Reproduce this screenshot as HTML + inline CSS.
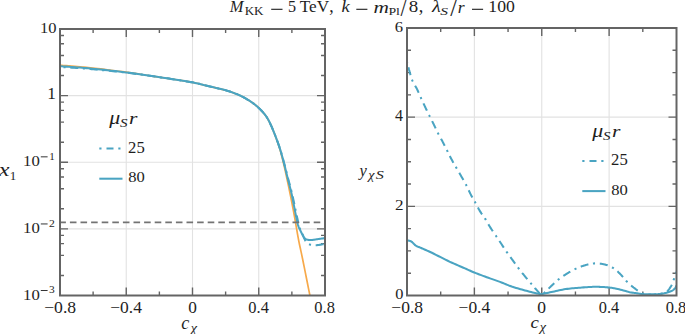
<!DOCTYPE html>
<html><head><meta charset="utf-8"><style>html,body{margin:0;padding:0;background:#fff;}svg{display:block;}</style></head>
<body><svg width="685" height="334" viewBox="0 0 685 334" font-family="'Liberation Serif', serif">
<rect width="685" height="334" fill="#fff"/>
<line x1="126.25" y1="29" x2="126.25" y2="295.5" stroke="#e2e2e2" stroke-width="1.1"/>
<line x1="474.38" y1="28" x2="474.38" y2="295.5" stroke="#e2e2e2" stroke-width="1.1"/>
<line x1="192.50" y1="29" x2="192.50" y2="295.5" stroke="#e2e2e2" stroke-width="1.1"/>
<line x1="541.75" y1="28" x2="541.75" y2="295.5" stroke="#e2e2e2" stroke-width="1.1"/>
<line x1="258.75" y1="29" x2="258.75" y2="295.5" stroke="#e2e2e2" stroke-width="1.1"/>
<line x1="609.12" y1="28" x2="609.12" y2="295.5" stroke="#e2e2e2" stroke-width="1.1"/>
<line x1="60" y1="228.88" x2="325" y2="228.88" stroke="#e2e2e2" stroke-width="1.1"/>
<line x1="60" y1="162.25" x2="325" y2="162.25" stroke="#e2e2e2" stroke-width="1.1"/>
<line x1="60" y1="95.62" x2="325" y2="95.62" stroke="#e2e2e2" stroke-width="1.1"/>
<line x1="407" y1="206.33" x2="676.5" y2="206.33" stroke="#e2e2e2" stroke-width="1.1"/>
<line x1="407" y1="117.17" x2="676.5" y2="117.17" stroke="#e2e2e2" stroke-width="1.1"/>
<path d="M126.25 295.50v-8M126.25 29.00v8M192.50 295.50v-8M192.50 29.00v8M258.75 295.50v-8M258.75 29.00v8M93.12 295.50v-4M93.12 29.00v4M159.38 295.50v-4M159.38 29.00v4M225.62 295.50v-4M225.62 29.00v4M291.88 295.50v-4M291.88 29.00v4M60.00 228.88h8M325.00 228.88h-8M60.00 162.25h8M325.00 162.25h-8M60.00 95.62h8M325.00 95.62h-8M60.00 275.44h4M325.00 275.44h-4M60.00 255.39h4M325.00 255.39h-4M60.00 243.66h4M325.00 243.66h-4M60.00 235.33h4M325.00 235.33h-4M60.00 208.82h4M325.00 208.82h-4M60.00 188.76h4M325.00 188.76h-4M60.00 177.03h4M325.00 177.03h-4M60.00 168.71h4M325.00 168.71h-4M60.00 142.19h4M325.00 142.19h-4M60.00 122.14h4M325.00 122.14h-4M60.00 110.41h4M325.00 110.41h-4M60.00 102.08h4M325.00 102.08h-4M60.00 75.57h4M325.00 75.57h-4M60.00 55.51h4M325.00 55.51h-4M60.00 43.78h4M325.00 43.78h-4M60.00 35.46h4M325.00 35.46h-4M474.38 295.50v-8M474.38 28.00v8M541.75 295.50v-8M541.75 28.00v8M609.12 295.50v-8M609.12 28.00v8M440.69 295.50v-4M440.69 28.00v4M508.06 295.50v-4M508.06 28.00v4M575.44 295.50v-4M575.44 28.00v4M642.81 295.50v-4M642.81 28.00v4M407.00 206.33h8M676.50 206.33h-8M407.00 117.17h8M676.50 117.17h-8M407.00 273.21h4M676.50 273.21h-4M407.00 250.92h4M676.50 250.92h-4M407.00 228.62h4M676.50 228.62h-4M407.00 184.04h4M676.50 184.04h-4M407.00 161.75h4M676.50 161.75h-4M407.00 139.46h4M676.50 139.46h-4M407.00 94.88h4M676.50 94.88h-4M407.00 72.58h4M676.50 72.58h-4M407.00 50.29h4M676.50 50.29h-4" stroke="#646464" stroke-width="1.4" fill="none"/>
<defs><clipPath id="cl"><rect x="60" y="29" width="265" height="266.5"/></clipPath><clipPath id="cr"><rect x="407" y="28" width="269.5" height="267.5"/></clipPath></defs>
<g clip-path="url(#cl)" fill="none" stroke-linejoin="round">
<path d="M60.00 65.20 61.56 65.32 63.65 65.48 66.14 65.67 68.89 65.89 71.79 66.12 74.69 66.35 77.47 66.58 80.00 66.80 82.25 67.00 84.34 67.19 86.34 67.38 88.33 67.57 90.39 67.78 92.58 68.02 95.00 68.29 97.70 68.60 100.74 68.96 104.05 69.36 107.58 69.80 111.24 70.26 114.99 70.73 118.74 71.22 122.43 71.71 126.00 72.20 129.46 72.69 132.87 73.18 136.26 73.69 139.64 74.20 143.03 74.72 146.44 75.24 149.90 75.77 153.40 76.30 157.08 76.85 160.97 77.43 164.96 78.02 168.94 78.62 172.80 79.20 176.44 79.75 179.74 80.25 182.60 80.70 184.96 81.08 186.89 81.39 188.50 81.66 189.88 81.89 191.12 82.12 192.33 82.35 193.59 82.61 195.00 82.90 196.47 83.22 197.87 83.54 199.23 83.87 200.60 84.22 202.01 84.58 203.51 84.96 205.12 85.37 206.90 85.80 208.92 86.28 211.18 86.81 213.60 87.37 216.08 87.95 218.54 88.53 220.89 89.09 223.04 89.62 224.90 90.10 226.46 90.52 227.79 90.90 228.94 91.25 229.97 91.57 230.93 91.90 231.87 92.24 232.84 92.60 233.90 93.00 235.02 93.43 236.13 93.87 237.24 94.32 238.35 94.79 239.46 95.28 240.57 95.80 241.68 96.33 242.80 96.90 243.94 97.50 245.10 98.14 246.27 98.82 247.44 99.51 248.59 100.21 249.71 100.91 250.78 101.61 251.80 102.30 252.75 102.97 253.66 103.63 254.52 104.29 255.34 104.94 256.15 105.61 256.94 106.29 257.72 106.98 258.50 107.70 259.29 108.45 260.08 109.22 260.85 110.01 261.62 110.81 262.36 111.62 263.08 112.43 263.76 113.22 264.40 114.00 264.99 114.74 265.52 115.43 266.01 116.10 266.48 116.77 266.94 117.47 267.40 118.23 267.88 119.06 268.40 120.00 268.94 121.01 269.47 122.07 270.02 123.18 270.57 124.35 271.15 125.61 271.74 126.96 272.35 128.42 273.00 130.00 273.70 131.75 274.44 133.67 275.23 135.72 276.02 137.85 276.82 140.03 277.59 142.21 278.33 144.34 279.00 146.40 279.62 148.39 280.19 150.36 280.74 152.31 281.26 154.26 281.76 156.19 282.24 158.13 282.72 160.06 283.20 162.00 283.67 163.93 284.12 165.85 284.56 167.76 284.99 169.68 285.42 171.60 285.84 173.54 286.27 175.50 286.70 177.50 287.13 179.51 287.56 181.52 287.99 183.53 288.42 185.57 288.85 187.66 289.29 189.80 289.74 192.00 290.20 194.30 290.67 196.67 291.16 199.10 291.65 201.59 292.14 204.14 292.65 206.75 293.16 209.43 293.68 212.18 294.20 215.00 294.73 217.96 295.28 221.09 295.84 224.32 296.40 227.61 296.96 230.88 297.52 234.07 298.07 237.13 298.60 240.00 299.10 242.54 299.55 244.76 299.98 246.80 300.42 248.78 300.88 250.86 301.38 253.16 301.94 255.83 302.60 259.00 303.40 262.96 304.35 267.69 305.39 272.90 306.46 278.28 307.51 283.53 308.47 288.36 309.29 292.44 309.90 295.50 310.30 297.46 310.54 298.57 310.64 299.04 310.66 299.03 310.61 298.74 310.55 298.35 310.50 298.04 310.50 298.00" stroke="#f7a94a" stroke-width="1.7"/>
<path d="M63.53 67.12 63.65 67.13 64.85 67.20 65.63 67.25M70.29 67.54 70.33 67.55 71.79 67.64 73.25 67.74 74.69 67.83 76.11 67.93 77.47 68.02 78.23 68.07M82.89 68.42 83.31 68.45 84.34 68.53 84.98 68.58M89.64 68.96 90.39 69.03 91.46 69.12 92.58 69.22 93.76 69.33 95.00 69.44 96.31 69.57 97.56 69.69M102.21 70.13 102.36 70.15 104.05 70.31 104.30 70.33M108.96 70.79 109.40 70.83 111.24 71.01 113.11 71.20 114.99 71.39 116.87 71.59 116.87 71.59M121.51 72.09 122.43 72.19 123.60 72.32M128.24 72.87 129.46 73.02 131.17 73.23 132.87 73.45 134.57 73.67 136.13 73.88M140.76 74.51 141.34 74.59 142.84 74.80M147.47 75.45 148.16 75.55 149.90 75.80 151.64 76.05 153.40 76.30 155.21 76.56 155.34 76.58M159.97 77.26 160.97 77.40 162.04 77.56M166.67 78.25 166.95 78.29 168.94 78.59 170.89 78.89 172.80 79.18 174.53 79.44M179.15 80.16 179.74 80.25 181.22 80.48M185.84 81.22 185.97 81.24 186.89 81.39 187.73 81.53 188.50 81.66 189.21 81.78 189.88 81.89 190.51 82.01 191.12 82.12 191.73 82.23 192.33 82.35 192.95 82.48 193.59 82.61 193.67 82.62M198.23 83.63 198.55 83.71 199.23 83.87 199.91 84.04 200.27 84.13M204.80 85.28 205.12 85.37 205.99 85.58 206.90 85.80 207.87 86.03 208.92 86.28 210.03 86.54 211.18 86.81 212.38 87.09 212.54 87.12M217.09 88.19 217.32 88.24 218.54 88.53 219.13 88.67M223.67 89.78 224.01 89.87 224.90 90.10 225.71 90.32 226.46 90.52 227.15 90.72 227.79 90.90 228.38 91.08 228.94 91.25 229.47 91.41 229.97 91.57 230.45 91.74 230.93 91.90 231.29 92.03M235.66 93.68 236.13 93.87 236.69 94.09 237.24 94.32 237.61 94.48M241.86 96.42 242.24 96.61 242.80 96.90 243.36 97.20 243.94 97.50 244.51 97.82 245.10 98.14 245.68 98.48 246.27 98.82 246.85 99.16 247.44 99.51 248.02 99.86 248.59 100.21 248.78 100.33M252.68 102.91 252.75 102.97 253.21 103.30 253.66 103.63 254.09 103.96 254.36 104.17M257.93 107.18 258.11 107.34 258.50 107.70 258.89 108.07 259.29 108.45 259.68 108.83 260.08 109.22 260.47 109.61 260.85 110.01 261.24 110.41 261.62 110.81 261.99 111.22 262.36 111.62 262.72 112.02 263.08 112.43 263.42 112.82 263.47 112.88M266.34 116.56 266.48 116.77 266.71 117.11 266.94 117.47 267.17 117.84 267.40 118.23 267.47 118.34M269.66 122.46 269.74 122.61 270.01 123.18 270.28 123.75 270.56 124.35 270.84 124.97 271.13 125.61 271.42 126.27 271.72 126.96 272.03 127.67 272.34 128.42 272.67 129.19 272.89 129.73M274.63 134.06 274.87 134.68 275.28 135.72 275.40 136.02M277.06 140.39 277.33 141.12 277.73 142.21 278.11 143.28 278.49 144.34 278.85 145.39 279.20 146.40 279.53 147.40 279.69 147.89M281.08 152.35 281.36 153.29 281.64 154.26 281.67 154.37M282.94 158.87 283.00 159.09 283.26 160.06 283.53 161.03 283.80 162.00 284.07 162.97 284.33 163.93 284.58 164.89 284.83 165.85 285.01 166.55M286.17 171.07 286.30 171.60 286.54 172.56 286.68 173.11M287.84 177.64 288.06 178.51 288.33 179.51 288.60 180.51 288.87 181.52 289.15 182.52 289.42 183.53 289.70 184.55 289.91 185.32M291.10 189.84 291.37 190.89 291.61 191.87M292.68 196.42 292.76 196.76 293.04 198.06 293.33 199.39 293.62 200.76 293.91 202.14 294.20 203.53 294.34 204.20M295.28 208.78 295.33 209.01 295.60 210.31 295.71 210.83M296.69 215.40 296.83 216.02 297.04 216.99 297.25 217.93 297.45 218.83 297.64 219.70 297.83 220.53 298.01 221.33 298.19 222.11 298.36 222.85 298.44 223.16M299.66 227.67 299.79 228.09 299.98 228.65 300.17 229.17 300.36 229.65M302.32 233.89 302.43 234.11 302.60 234.50 302.77 234.89 302.93 235.28 303.10 235.67 303.26 236.05 303.41 236.43 303.57 236.80 303.72 237.17 303.88 237.53 304.02 237.88 304.17 238.22 304.31 238.55 304.46 238.86 304.60 239.17 304.73 239.46 304.87 239.74 305.00 240.00 305.13 240.24 305.24 240.47 305.35 240.68 305.46 240.87 305.56 241.05 305.61 241.13M309.01 244.24 309.19 244.32 309.44 244.42 309.71 244.51 310.00 244.60 310.31 244.68 310.63 244.75 310.97 244.82 311.02 244.83M315.67 245.21 315.87 245.21 316.30 245.20 316.75 245.18 317.22 245.14 317.71 245.09 318.21 245.03 318.73 244.95 319.26 244.88 319.78 244.79 320.31 244.71 320.82 244.62 321.32 244.53 321.81 244.44 322.27 244.36 322.70 244.28 323.11 244.21 323.47 244.15 323.55 244.14" stroke="#4aa4c2" stroke-width="2.05"/>
<path d="M60.00 66.20 61.56 66.31 63.65 66.45 66.14 66.61 68.89 66.80 71.79 67.00 74.69 67.20 77.47 67.41 80.00 67.60 82.25 67.78 84.34 67.95 86.34 68.12 88.33 68.29 90.39 68.47 92.58 68.68 95.00 68.92 97.70 69.20 100.74 69.52 104.05 69.87 107.58 70.25 111.24 70.66 114.99 71.08 118.74 71.51 122.43 71.96 126.00 72.40 129.46 72.85 132.87 73.31 136.26 73.79 139.64 74.28 143.03 74.77 146.44 75.27 149.90 75.78 153.40 76.30 157.08 76.84 160.97 77.42 164.96 78.01 168.94 78.61 172.80 79.19 176.44 79.74 179.74 80.25 182.60 80.70 184.96 81.08 186.89 81.39 188.50 81.66 189.88 81.89 191.12 82.12 192.33 82.35 193.59 82.61 195.00 82.90 196.47 83.22 197.87 83.54 199.23 83.87 200.60 84.22 202.01 84.58 203.51 84.96 205.12 85.37 206.90 85.80 208.92 86.28 211.18 86.81 213.60 87.37 216.08 87.95 218.54 88.53 220.89 89.09 223.04 89.62 224.90 90.10 226.46 90.52 227.79 90.90 228.94 91.25 229.97 91.57 230.93 91.90 231.87 92.24 232.84 92.60 233.90 93.00 235.02 93.43 236.13 93.87 237.24 94.32 238.35 94.79 239.46 95.28 240.57 95.80 241.68 96.33 242.80 96.90 243.94 97.50 245.10 98.14 246.27 98.82 247.44 99.51 248.59 100.21 249.71 100.91 250.78 101.61 251.80 102.30 252.75 102.97 253.66 103.63 254.52 104.29 255.34 104.94 256.15 105.61 256.94 106.29 257.72 106.98 258.50 107.70 259.29 108.45 260.08 109.22 260.85 110.01 261.62 110.81 262.36 111.62 263.08 112.43 263.76 113.22 264.40 114.00 264.99 114.74 265.52 115.43 266.01 116.10 266.48 116.77 266.94 117.47 267.40 118.23 267.88 119.06 268.40 120.00 268.94 121.01 269.47 122.07 270.01 123.18 270.56 124.35 271.13 125.61 271.72 126.96 272.34 128.42 273.00 130.00 273.71 131.75 274.48 133.67 275.28 135.72 276.11 137.85 276.93 140.03 277.73 142.21 278.50 144.34 279.20 146.40 279.85 148.39 280.46 150.36 281.04 152.31 281.60 154.26 282.14 156.19 282.66 158.13 283.18 160.06 283.70 162.00 284.21 163.93 284.69 165.85 285.16 167.76 285.62 169.68 286.08 171.60 286.54 173.54 287.01 175.50 287.50 177.50 288.01 179.51 288.52 181.52 289.05 183.53 289.58 185.57 290.11 187.66 290.65 189.80 291.18 192.00 291.70 194.30 292.23 196.77 292.78 199.45 293.33 202.25 293.87 205.08 294.41 207.85 294.91 210.49 295.38 212.90 295.80 215.00 296.16 216.79 296.47 218.35 296.75 219.71 296.99 220.92 297.23 222.01 297.47 223.03 297.72 224.01 298.00 225.00 298.31 225.95 298.63 226.82 298.96 227.61 299.29 228.34 299.63 229.04 299.96 229.70 300.29 230.35 300.60 231.00 300.91 231.65 301.21 232.27 301.51 232.88 301.80 233.46 302.09 234.02 302.37 234.54 302.64 235.04 302.90 235.50 303.15 235.92 303.37 236.31 303.59 236.66 303.80 236.99 304.01 237.29 304.23 237.57 304.45 237.84 304.70 238.10 304.95 238.35 305.19 238.58 305.43 238.79 305.69 238.99 305.96 239.17 306.27 239.33 306.61 239.47 307.00 239.60 307.44 239.71 307.91 239.81 308.43 239.88 308.97 239.94 309.54 239.99 310.14 240.01 310.76 240.01 311.40 240.00 312.07 239.96 312.78 239.89 313.52 239.79 314.27 239.68 315.05 239.56 315.83 239.44 316.62 239.31 317.40 239.20 318.21 239.09 319.07 238.97 319.96 238.84 320.84 238.72 321.69 238.60 322.49 238.49 323.20 238.38 323.80 238.30 324.29 238.23 324.70 238.18 325.03 238.13 325.30 238.09 325.52 238.06 325.70 238.04 325.86 238.02 326.00 238.00" stroke="#4aa4c2" stroke-width="2.05"/>
<line x1="59.3" y1="222.4" x2="325" y2="222.4" stroke="#737373" stroke-width="1.6" stroke-dasharray="6.6 4.0"/>
</g>
<g clip-path="url(#cr)" fill="none" stroke-linejoin="round">
<path d="M407.00 61.70 407.08 62.03 407.18 62.42 407.26 62.72M408.41 67.33 408.53 67.76 408.70 68.44 408.88 69.10 409.05 69.76 409.23 70.39 409.40 71.00 409.57 71.59 409.74 72.19 409.90 72.80 410.07 73.40 410.24 74.01 410.41 74.63 410.55 75.10M412.01 79.62 412.17 80.03 412.40 80.60 412.64 81.16 412.83 81.56M415.09 85.66 415.25 85.93 415.55 86.45 415.85 86.97 416.15 87.50 416.44 88.03 416.73 88.56 417.00 89.10 417.27 89.64 417.53 90.19 417.78 90.74 418.04 91.29 418.28 91.84 418.53 92.39 418.69 92.75M420.57 97.04 420.74 97.43 421.00 98.00 421.26 98.57 421.44 98.96M423.44 103.31 423.68 103.85 423.95 104.43 424.23 105.01 424.50 105.59 424.77 106.17 425.03 106.74 425.30 107.30 425.56 107.86 425.83 108.41 426.09 108.95 426.35 109.49 426.61 110.03 426.87 110.56 426.92 110.66M429.03 114.96 429.23 115.35 429.50 115.90 429.77 116.45 429.97 116.84M432.11 121.10 432.32 121.53 432.61 122.10 432.89 122.66 433.17 123.23 433.45 123.79 433.73 124.35 434.00 124.90 434.27 125.45 434.54 126.00 434.80 126.56 435.06 127.11 435.32 127.65 435.58 128.20 435.66 128.37M437.73 132.66 437.93 133.07 438.20 133.60 438.47 134.13 438.68 134.53M440.95 138.67 440.99 138.75 441.28 139.27 441.56 139.79 441.85 140.31 442.13 140.83 442.42 141.36 442.70 141.90 442.99 142.44 443.27 143.00 443.56 143.55 443.85 144.11 444.14 144.68 444.44 145.25 444.69 145.76M446.83 149.96 447.02 150.35 447.30 150.90 447.57 151.44 447.77 151.84M449.78 155.95 449.90 156.18 450.16 156.70 450.42 157.21 450.68 157.73 450.95 158.25 451.22 158.78 451.50 159.30 451.78 159.82 452.07 160.35 452.36 160.87 452.65 161.39 452.94 161.90 453.24 162.42 453.48 162.84M455.77 166.79 455.99 167.16 456.30 167.70 456.61 168.25 456.82 168.61M459.26 172.81 459.57 173.34 459.90 173.91 460.23 174.48 460.55 175.04 460.87 175.60 461.19 176.15 461.50 176.70 461.81 177.24 462.11 177.77 462.42 178.30 462.71 178.82 463.01 179.34 463.31 179.85 463.35 179.93M465.71 184.17 465.91 184.55 466.20 185.10 466.49 185.66 466.68 186.04M468.70 190.28 468.74 190.37 469.02 190.97 469.30 191.56 469.58 192.15 469.86 192.72 470.14 193.29 470.42 193.85 470.70 194.40 470.98 194.93 471.26 195.46 471.54 195.97 471.82 196.47 472.09 196.96 472.34 197.40M474.69 201.48 474.91 201.87 475.20 202.40 475.49 202.94 475.70 203.32M477.91 207.51 478.22 208.08 478.53 208.65 478.84 209.22 479.15 209.78 479.47 210.33 479.78 210.87 480.10 211.40 480.42 211.92 480.75 212.42 481.07 212.91 481.40 213.40 481.74 213.88 482.07 214.35 482.08 214.36M484.82 218.22 485.08 218.60 485.40 219.10 485.72 219.61 485.95 219.99M488.41 224.25 488.48 224.37 488.79 224.91 489.10 225.45 489.42 225.99 489.74 226.53 490.07 227.06 490.40 227.60 490.74 228.14 491.09 228.67 491.44 229.21 491.80 229.75 492.17 230.30 492.53 230.84 492.83 231.27M495.61 235.33 495.85 235.68 496.20 236.20 496.55 236.72 496.78 237.07M499.39 240.98 499.59 241.28 499.93 241.79 500.26 242.29 500.59 242.79 500.93 243.29 501.26 243.79 501.60 244.30 501.94 244.81 502.27 245.31 502.61 245.82 502.94 246.33 503.27 246.83 503.61 247.34 503.80 247.63M506.40 251.54 506.65 251.90 507.00 252.40 507.35 252.90 507.60 253.26M510.39 257.11 510.61 257.41 510.97 257.91 511.34 258.41 511.71 258.91 512.07 259.41 512.44 259.90 512.80 260.40 513.16 260.90 513.52 261.39 513.88 261.89 514.25 262.39 514.61 262.89 514.97 263.38 515.15 263.63M517.97 267.46 518.23 267.81 518.60 268.30 518.97 268.78 519.24 269.13M522.18 272.90 522.30 273.06 522.68 273.53 523.06 274.00 523.44 274.47 523.82 274.95 524.21 275.42 524.60 275.90 524.99 276.38 525.39 276.86 525.79 277.34 526.19 277.82 526.60 278.31 527.01 278.79 527.32 279.16M530.42 282.80 530.70 283.13 531.10 283.60 531.51 284.08 531.78 284.40M534.71 287.82 534.91 288.06 535.32 288.53 535.72 288.99 536.11 289.44 536.48 289.86 536.84 290.27 537.18 290.65 537.50 291.00 537.80 291.33 538.08 291.65 538.34 291.96 538.58 292.25 538.81 292.53 539.02 292.80 539.23 293.04 539.43 293.27 539.62 293.49 539.78 293.64M543.69 293.27 543.91 293.09 544.19 292.85 544.50 292.60 544.83 292.32 545.18 292.01 545.29 291.91M548.61 288.65 548.95 288.30 549.40 287.85 549.85 287.40 550.31 286.95 550.76 286.52 551.20 286.10 551.64 285.68 552.09 285.26 552.53 284.84 552.98 284.41 553.44 283.98 553.89 283.55 554.32 283.16M557.79 280.06 558.12 279.79 558.60 279.40 559.09 279.02 559.43 278.75M563.36 275.95 563.58 275.80 564.09 275.46 564.61 275.12 565.13 274.79 565.65 274.46 566.17 274.13 566.70 273.80 567.23 273.47 567.76 273.14 568.30 272.82 568.84 272.49 569.39 272.17 569.94 271.85 570.30 271.64M574.55 269.36 574.94 269.17 575.50 268.90 576.06 268.64 576.45 268.46M580.77 266.68 581.15 266.54 581.72 266.34 582.30 266.14 582.87 265.94 583.45 265.76 584.02 265.57 584.60 265.40 585.18 265.23 585.76 265.06 586.34 264.89 586.92 264.73 587.50 264.57 588.08 264.41 588.37 264.34M592.95 263.49 593.40 263.44 594.00 263.40 594.61 263.37 595.05 263.36M599.79 263.59 600.23 263.64 600.86 263.73 601.48 263.82 602.09 263.93 602.70 264.04 603.31 264.17 603.90 264.30 604.49 264.44 605.08 264.59 605.66 264.75 606.25 264.92 606.83 265.10 607.41 265.29 607.64 265.38M611.99 267.28 612.38 267.50 612.90 267.80 613.41 268.12 613.78 268.37M617.42 271.32 617.74 271.61 618.20 272.04 618.64 272.48 619.09 272.91 619.53 273.34 619.97 273.77 620.40 274.20 620.82 274.63 621.24 275.07 621.64 275.51 622.03 275.96 622.42 276.41 622.80 276.87 622.95 277.06M625.97 280.64 626.28 280.97 626.70 281.40 627.13 281.83 627.45 282.14M631.12 285.51 631.17 285.55 631.64 285.95 632.12 286.35 632.60 286.74 633.10 287.13 633.59 287.52 634.10 287.90 634.61 288.29 635.14 288.68 635.67 289.09 636.22 289.49 636.77 289.90 637.32 290.31 637.77 290.62M642.03 293.19 642.44 293.38 643.00 293.60 643.56 293.79 644.00 293.92M648.40 294.49 648.58 294.50 649.15 294.51 649.71 294.51 650.28 294.51 650.85 294.50 651.42 294.50 652.00 294.50 652.59 294.50 653.19 294.49 653.80 294.48 654.43 294.46 655.06 294.43 655.69 294.39 656.04 294.37M660.47 293.89 660.49 293.89 661.01 293.80 661.50 293.70 661.96 293.60 662.40 293.50 662.53 293.47M666.98 291.48 667.20 291.30 667.52 291.01 667.84 290.70 668.15 290.35 668.46 289.99 668.77 289.60 669.08 289.20 669.38 288.79 669.67 288.36 669.96 287.93 670.23 287.50 670.50 287.06 670.76 286.63 671.02 286.21 671.26 285.79 671.48 285.39 671.70 285.00 671.81 284.79M673.56 280.19 673.66 279.88 673.78 279.54 673.90 279.20 674.02 278.86 674.14 278.53 674.25 278.21M675.77 273.73 675.80 273.65 675.90 273.37 676.00 273.10 676.11 272.82 676.21 272.55 676.31 272.29 676.41 272.04 676.50 271.79 676.59 271.56 676.68 271.34 676.76 271.13 676.83 270.95 676.89 270.78 676.95 270.63 677.00 270.50" stroke="#4aa4c2" stroke-width="2.05"/>
<path d="M407.00 240.30 407.33 240.37 407.77 240.45 408.29 240.53 408.87 240.64 409.48 240.78 410.11 240.97 410.72 241.20 411.30 241.50 411.85 241.89 412.39 242.36 412.93 242.90 413.48 243.47 414.04 244.06 414.61 244.63 415.19 245.15 415.80 245.60 416.40 245.96 416.96 246.26 417.53 246.52 418.11 246.76 418.75 247.00 419.46 247.27 420.27 247.60 421.20 248.00 422.23 248.46 423.33 248.93 424.50 249.44 425.76 249.99 427.12 250.59 428.59 251.25 430.18 251.98 431.90 252.80 433.82 253.74 435.95 254.81 438.24 255.97 440.62 257.19 443.04 258.42 445.43 259.62 447.74 260.76 449.90 261.80 451.97 262.76 454.01 263.68 456.03 264.56 457.99 265.41 459.89 266.21 461.70 266.98 463.41 267.71 465.00 268.40 466.41 269.02 467.62 269.57 468.70 270.07 469.71 270.53 470.72 270.98 471.77 271.45 472.95 271.95 474.30 272.50 475.85 273.11 477.55 273.77 479.35 274.45 481.21 275.15 483.08 275.85 484.94 276.53 486.72 277.19 488.40 277.80 489.97 278.37 491.47 278.90 492.93 279.40 494.35 279.89 495.75 280.38 497.15 280.87 498.56 281.37 500.00 281.90 501.46 282.46 502.92 283.04 504.38 283.64 505.84 284.24 507.31 284.83 508.77 285.42 510.24 285.97 511.70 286.50 513.16 286.99 514.62 287.46 516.09 287.92 517.55 288.35 519.01 288.77 520.48 289.19 521.94 289.59 523.40 290.00 524.91 290.41 526.48 290.83 528.07 291.25 529.66 291.65 531.19 292.04 532.63 292.40 533.95 292.72 535.10 293.00 536.08 293.24 536.93 293.44 537.65 293.60 538.29 293.74 538.85 293.86 539.36 293.95 539.83 294.03 540.30 294.10 540.67 294.16 540.89 294.21 541.02 294.25 541.13 294.26 541.28 294.25 541.53 294.21 541.95 294.13 542.60 294.00 543.49 293.82 544.55 293.59 545.77 293.31 547.09 293.01 548.50 292.68 549.96 292.35 551.44 292.02 552.90 291.70 554.38 291.38 555.92 291.04 557.51 290.69 559.14 290.34 560.78 289.99 562.43 289.67 564.08 289.36 565.70 289.10 567.31 288.87 568.92 288.67 570.53 288.50 572.14 288.34 573.76 288.20 575.37 288.07 576.99 287.93 578.60 287.80 580.24 287.66 581.91 287.53 583.60 287.39 585.29 287.27 586.94 287.15 588.54 287.05 590.07 286.97 591.50 286.90 592.82 286.85 594.04 286.82 595.20 286.80 596.29 286.80 597.36 286.81 598.42 286.83 599.49 286.86 600.60 286.90 601.75 286.95 602.93 287.02 604.13 287.10 605.31 287.19 606.47 287.29 607.58 287.39 608.63 287.50 609.60 287.60 610.44 287.69 611.15 287.77 611.78 287.85 612.37 287.94 612.97 288.04 613.63 288.16 614.39 288.31 615.30 288.50 616.41 288.74 617.69 289.04 619.08 289.37 620.53 289.73 621.97 290.08 623.33 290.42 624.56 290.73 625.60 291.00 626.42 291.22 627.08 291.42 627.62 291.60 628.08 291.76 628.51 291.90 628.94 292.04 629.42 292.17 630.00 292.30 630.66 292.42 631.35 292.53 632.07 292.63 632.81 292.73 633.56 292.81 634.31 292.90 635.06 293.00 635.80 293.10 636.53 293.21 637.27 293.33 638.01 293.46 638.75 293.58 639.49 293.70 640.23 293.81 640.97 293.92 641.70 294.00 642.43 294.07 643.15 294.12 643.88 294.17 644.60 294.20 645.32 294.23 646.05 294.25 646.77 294.28 647.50 294.30 648.23 294.33 648.97 294.35 649.71 294.37 650.45 294.39 651.19 294.41 651.93 294.41 652.67 294.41 653.40 294.40 654.13 294.38 654.86 294.35 655.58 294.31 656.31 294.26 657.03 294.21 657.75 294.15 658.48 294.08 659.20 294.00 659.93 293.92 660.65 293.83 661.38 293.74 662.10 293.64 662.83 293.53 663.55 293.40 664.28 293.26 665.00 293.10 665.74 292.92 666.50 292.72 667.28 292.51 668.04 292.28 668.79 292.04 669.51 291.80 670.19 291.55 670.80 291.30 671.36 291.05 671.88 290.79 672.36 290.53 672.80 290.26 673.21 289.98 673.60 289.69 673.96 289.40 674.30 289.10 674.61 288.78 674.89 288.43 675.14 288.07 675.36 287.70 675.57 287.34 675.75 287.00 675.93 286.68 676.10 286.40 676.26 286.15 676.41 285.93 676.54 285.72 676.66 285.53 676.77 285.37 676.86 285.22 676.94 285.10 677.00 285.00" stroke="#4aa4c2" stroke-width="2.05"/>
</g>
<line x1="99.3" y1="148.5" x2="122.3" y2="148.5" stroke="#4aa4c2" stroke-width="2.05" stroke-dasharray="2.2 5.0 7.0 4.8 2.2 10"/>
<line x1="99.3" y1="178.7" x2="122.5" y2="178.7" stroke="#4aa4c2" stroke-width="2.05"/>
<line x1="582.3" y1="160.9" x2="605.3" y2="160.9" stroke="#4aa4c2" stroke-width="2.05" stroke-dasharray="2.2 5.0 7.0 4.8 2.2 10"/>
<line x1="582.3" y1="191.1" x2="605.5" y2="191.1" stroke="#4aa4c2" stroke-width="2.05"/>
<rect x="60" y="29" width="265" height="266.5" fill="none" stroke="#646464" stroke-width="2"/>
<rect x="407" y="28" width="269.5" height="267.5" fill="none" stroke="#646464" stroke-width="2"/>
<rect x="271.20" y="8.75" width="11.30" height="1.1" fill="#1e1e1e"/>
<rect x="356.30" y="8.75" width="11.10" height="1.1" fill="#1e1e1e"/>
<rect x="472.00" y="8.75" width="11.10" height="1.1" fill="#1e1e1e"/>
<rect x="40.8" y="156.40" width="6.8" height="0.9" fill="#1e1e1e"/>
<rect x="40.8" y="223.50" width="6.8" height="0.9" fill="#1e1e1e"/>
<rect x="40.8" y="290.10" width="6.8" height="0.9" fill="#1e1e1e"/>
<text transform="translate(229.68,12.48) scale(0.959,1)" font-size="17.17" font-style="italic" fill="#1e1e1e">M</text>
<text transform="translate(244.63,14.88) scale(1.124,1)" font-size="11.63" fill="#1e1e1e">KK</text>
<text transform="translate(287.95,12.41) scale(0.937,1)" font-size="17.23" fill="#1e1e1e">5</text>
<text transform="translate(299.78,12.32) scale(0.988,1)" font-size="17.38" fill="#1e1e1e">TeV</text>
<text transform="translate(329.21,12.36) scale(0.908,1)" font-size="19.45" fill="#1e1e1e">,</text>
<text transform="translate(341.56,12.48) scale(1.068,1)" font-size="17.33" font-style="italic" fill="#1e1e1e">k</text>
<text transform="translate(373.47,12.56) scale(1.278,1)" font-size="16.69" font-style="italic" fill="#1e1e1e">m</text>
<text transform="translate(388.40,14.88) scale(1.372,1)" font-size="10.09" fill="#1e1e1e">Pl</text>
<text transform="translate(400.52,16.03) scale(0.911,1)" font-size="24.60" fill="#1e1e1e">/</text>
<text transform="translate(408.66,12.41) scale(1.116,1)" font-size="16.98" fill="#1e1e1e">8</text>
<text transform="translate(418.69,12.36) scale(0.943,1)" font-size="19.45" fill="#1e1e1e">,</text>
<text transform="translate(431.92,12.48) scale(1.179,1)" font-size="17.09" font-style="italic" fill="#1e1e1e">λ</text>
<text transform="translate(440.27,14.97) scale(1.411,1)" font-size="10.99" font-style="italic" fill="#1e1e1e">S</text>
<text transform="translate(450.32,16.03) scale(0.999,1)" font-size="24.60" fill="#1e1e1e">/</text>
<text transform="translate(457.82,12.56) scale(1.055,1)" font-size="16.69" font-style="italic" fill="#1e1e1e">r</text>
<text transform="translate(488.33,12.41) scale(1.062,1)" font-size="16.68" fill="#1e1e1e">100</text>
<text transform="translate(39.93,32.73) scale(1.075,1)" font-size="15.35" fill="#1e1e1e">10</text>
<text transform="translate(47.26,99.48) scale(1.095,1)" font-size="15.82" fill="#1e1e1e">1</text>
<text transform="translate(23.11,166.02) scale(1.070,1)" font-size="15.64" fill="#1e1e1e">10</text>
<text transform="translate(49.33,159.58) scale(0.981,1)" font-size="11.24" fill="#1e1e1e">1</text>
<text transform="translate(23.11,233.12) scale(1.070,1)" font-size="15.64" fill="#1e1e1e">10</text>
<text transform="translate(49.00,226.68) scale(1.045,1)" font-size="11.15" fill="#1e1e1e">2</text>
<text transform="translate(23.11,299.72) scale(1.070,1)" font-size="15.64" fill="#1e1e1e">10</text>
<text transform="translate(48.95,293.17) scale(1.035,1)" font-size="10.99" fill="#1e1e1e">3</text>
<text transform="translate(44.14,312.54) scale(1.126,1)" font-size="15.68" fill="#1e1e1e">−0.8</text>
<text transform="translate(110.25,312.54) scale(1.114,1)" font-size="15.68" fill="#1e1e1e">−0.4</text>
<text transform="translate(188.33,312.62) scale(1.095,1)" font-size="15.79" fill="#1e1e1e">0</text>
<text transform="translate(248.36,312.54) scale(1.049,1)" font-size="15.68" fill="#1e1e1e">0.4</text>
<text transform="translate(314.36,312.54) scale(1.050,1)" font-size="15.68" fill="#1e1e1e">0.8</text>
<text transform="translate(391.24,312.54) scale(1.119,1)" font-size="15.68" fill="#1e1e1e">−0.8</text>
<text transform="translate(458.55,312.54) scale(1.114,1)" font-size="15.68" fill="#1e1e1e">−0.4</text>
<text transform="translate(537.32,312.62) scale(1.110,1)" font-size="15.79" fill="#1e1e1e">0</text>
<text transform="translate(598.77,312.54) scale(1.044,1)" font-size="15.68" fill="#1e1e1e">0.4</text>
<text transform="translate(665.76,312.54) scale(1.050,1)" font-size="15.68" fill="#1e1e1e">0.8</text>
<text transform="translate(394.87,31.52) scale(1.064,1)" font-size="15.61" fill="#1e1e1e">6</text>
<text transform="translate(395.10,120.76) scale(1.016,1)" font-size="15.78" fill="#1e1e1e">4</text>
<text transform="translate(395.05,209.68) scale(1.103,1)" font-size="15.55" fill="#1e1e1e">2</text>
<text transform="translate(395.17,299.03) scale(1.054,1)" font-size="15.50" fill="#1e1e1e">0</text>
<text transform="translate(109.22,124.40) scale(1.213,1)" font-size="18.00" font-style="italic" fill="#1e1e1e">μ</text>
<text transform="translate(119.97,127.37) scale(1.318,1)" font-size="11.43" font-style="italic" fill="#1e1e1e">S</text>
<text transform="translate(128.96,124.17) scale(1.262,1)" font-size="17.12" font-style="italic" fill="#1e1e1e">r</text>
<text transform="translate(128.07,152.52) scale(1.058,1)" font-size="15.76" fill="#1e1e1e">25</text>
<text transform="translate(128.16,182.22) scale(1.060,1)" font-size="15.64" fill="#1e1e1e">80</text>
<text transform="translate(592.22,136.80) scale(1.213,1)" font-size="18.00" font-style="italic" fill="#1e1e1e">μ</text>
<text transform="translate(602.97,139.77) scale(1.318,1)" font-size="11.43" font-style="italic" fill="#1e1e1e">S</text>
<text transform="translate(611.96,136.57) scale(1.262,1)" font-size="17.12" font-style="italic" fill="#1e1e1e">r</text>
<text transform="translate(611.07,164.92) scale(1.058,1)" font-size="15.76" fill="#1e1e1e">25</text>
<text transform="translate(611.16,194.62) scale(1.060,1)" font-size="15.64" fill="#1e1e1e">80</text>
<text transform="translate(-1.24,176.38) scale(1.256,1)" font-size="19.25" font-style="italic" fill="#1e1e1e">x</text>
<text transform="translate(9.85,179.78) scale(1.009,1)" font-size="12.92" fill="#1e1e1e">1</text>
<text transform="translate(359.62,175.97) scale(0.934,1)" font-size="17.70" font-style="italic" fill="#1e1e1e">y</text>
<text transform="translate(368.35,179.23) scale(1.123,1)" font-size="12.63" font-style="italic" fill="#1e1e1e">χ</text>
<text transform="translate(375.66,178.94) scale(1.193,1)" font-size="13.52" font-style="italic" fill="#1e1e1e">S</text>
<text transform="translate(181.37,328.70) scale(1.007,1)" font-size="18.04" font-style="italic" fill="#1e1e1e">c</text>
<text transform="translate(190.65,331.53) scale(1.123,1)" font-size="12.63" font-style="italic" fill="#1e1e1e">χ</text>
<text transform="translate(530.45,328.21) scale(1.086,1)" font-size="17.42" font-style="italic" fill="#1e1e1e">c</text>
<text transform="translate(539.75,331.43) scale(1.123,1)" font-size="12.63" font-style="italic" fill="#1e1e1e">χ</text>
</svg></body></html>
